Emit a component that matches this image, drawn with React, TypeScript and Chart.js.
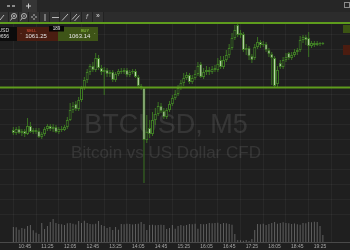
import { useEffect, useRef } from 'react';
import { Chart, registerables } from 'chart.js';

Chart.register(...registerables);

// ---- data ----
const firstCandleTime = '10:25';
const barMinutes = 5;

const opens = [
  1054.0, 1053.7, 1054.1, 1053.7, 1053.9, 1053.6, 1054.4, 1053.8, 1054.0, 1053.9,
  1053.3, 1053.6, 1054.1, 1054.4, 1054.1, 1054.3, 1053.8, 1054.1, 1054.0, 1054.3,
  1055.0, 1056.0, 1056.6, 1056.1, 1057.0, 1058.2, 1059.0, 1059.8, 1060.4, 1060.0,
  1061.2, 1060.2, 1059.8, 1060.0, 1059.6, 1059.8, 1059.0, 1059.6, 1059.9, 1059.8,
  1060.0, 1059.5, 1059.8, 1059.9, 1059.3, 1058.4, 1058.2, 1053.0, 1054.2, 1053.6,
  1055.0, 1055.6, 1056.4, 1055.9, 1055.3, 1056.0, 1056.6, 1057.2, 1057.6, 1058.2,
  1058.7, 1059.2, 1059.5, 1058.8, 1059.2, 1059.6, 1060.6, 1059.3, 1059.8, 1060.0,
  1059.8, 1060.2, 1060.0, 1061.0, 1060.3, 1061.0, 1061.5, 1062.2, 1063.2, 1064.5,
  1063.5, 1063.6, 1062.0, 1062.2, 1061.4, 1061.2, 1062.3, 1062.8, 1062.5, 1062.6,
  1062.0, 1061.6, 1061.2, 1058.6, 1060.7, 1060.3, 1061.0, 1061.7, 1061.2, 1061.5,
  1061.8, 1062.0, 1063.0, 1063.3, 1063.2, 1062.4, 1062.7, 1062.5, 1062.7, 1062.6,
];
const closes = [
  1053.7, 1054.1, 1053.7, 1053.9, 1053.6, 1054.4, 1053.8, 1054.0, 1053.8, 1053.3,
  1053.6, 1054.1, 1054.4, 1054.1, 1054.3, 1053.8, 1054.1, 1054.0, 1054.3, 1055.0,
  1056.0, 1056.4, 1056.1, 1057.0, 1058.2, 1059.0, 1059.8, 1060.4, 1060.0, 1061.2,
  1060.2, 1059.8, 1060.0, 1059.6, 1059.8, 1059.0, 1059.6, 1059.9, 1059.8, 1060.0,
  1059.5, 1059.8, 1059.9, 1059.3, 1058.4, 1058.2, 1053.0, 1053.8, 1053.6, 1055.0,
  1055.6, 1056.4, 1055.9, 1055.3, 1056.0, 1056.6, 1057.2, 1057.6, 1058.2, 1058.7,
  1059.2, 1059.5, 1058.8, 1059.2, 1059.6, 1060.4, 1059.3, 1059.8, 1060.0, 1059.8,
  1060.1, 1060.0, 1060.6, 1060.3, 1061.0, 1061.5, 1062.2, 1063.2, 1064.0, 1063.5,
  1063.7, 1062.0, 1062.2, 1061.4, 1061.0, 1062.3, 1062.8, 1062.5, 1062.6, 1062.0,
  1061.6, 1061.2, 1058.4, 1060.0, 1060.3, 1061.0, 1061.3, 1061.2, 1061.5, 1061.8,
  1062.0, 1063.0, 1063.3, 1063.0, 1062.4, 1062.7, 1062.5, 1062.7, 1062.6, 1062.7,
];
const highs = [
  1054.3, 1054.3, 1054.4, 1054.1, 1054.1, 1055.2, 1054.8, 1054.2, 1054.2, 1054.2,
  1053.8, 1054.3, 1054.6, 1054.6, 1054.6, 1054.5, 1054.3, 1054.4, 1054.5, 1055.3,
  1056.7, 1056.8, 1056.9, 1057.3, 1058.4, 1059.3, 1060.1, 1060.6, 1060.8, 1061.7,
  1061.5, 1060.5, 1060.3, 1060.2, 1060.0, 1060.0, 1059.8, 1060.1, 1060.2, 1060.2,
  1060.2, 1060.0, 1060.1, 1060.1, 1059.5, 1058.6, 1058.3, 1055.5, 1055.0, 1055.8,
  1056.2, 1056.8, 1056.7, 1056.2, 1056.2, 1056.9, 1057.5, 1058.0, 1058.5, 1059.0,
  1059.7, 1059.8, 1059.7, 1059.5, 1060.0, 1060.8, 1060.8, 1060.2, 1060.4, 1060.3,
  1060.4, 1060.5, 1061.2, 1061.4, 1061.4, 1062.0, 1062.6, 1063.7, 1064.5, 1064.7,
  1064.0, 1063.8, 1062.6, 1062.4, 1061.6, 1062.6, 1063.3, 1063.0, 1062.9, 1062.8,
  1062.2, 1061.8, 1061.4, 1060.4, 1061.0, 1061.3, 1061.7, 1061.8, 1061.8, 1062.1,
  1062.2, 1063.4, 1063.5, 1063.5, 1063.8, 1062.9, 1062.9, 1062.9, 1062.8, 1062.8,
];
const lows = [
  1053.5, 1053.5, 1053.6, 1053.4, 1053.3, 1053.5, 1053.7, 1053.6, 1053.6, 1053.2,
  1053.1, 1053.4, 1053.9, 1053.9, 1053.8, 1053.7, 1053.6, 1053.8, 1053.9, 1054.1,
  1054.9, 1055.7, 1055.9, 1055.9, 1056.8, 1058.0, 1058.7, 1059.5, 1059.8, 1059.8,
  1060.0, 1059.5, 1057.5, 1059.3, 1059.3, 1058.8, 1058.8, 1059.4, 1059.6, 1059.6,
  1059.3, 1059.3, 1059.6, 1059.2, 1058.2, 1058.0, 1048.7, 1052.7, 1053.2, 1053.4,
  1054.5, 1055.4, 1055.7, 1055.1, 1055.1, 1055.8, 1056.4, 1057.0, 1057.4, 1058.0,
  1058.4, 1059.0, 1058.6, 1058.6, 1059.0, 1059.4, 1059.2, 1059.1, 1059.5, 1059.5,
  1059.6, 1059.8, 1059.8, 1060.1, 1060.1, 1060.8, 1061.2, 1062.0, 1063.0, 1063.3,
  1063.2, 1061.8, 1061.5, 1061.0, 1060.7, 1061.0, 1062.1, 1062.2, 1062.3, 1061.8,
  1061.3, 1058.5, 1058.2, 1058.3, 1060.1, 1060.1, 1060.8, 1061.0, 1061.0, 1061.3,
  1061.5, 1061.8, 1062.7, 1062.5, 1061.3, 1062.2, 1062.3, 1062.4, 1062.4, 1062.5,
];
const volumes = [
  150, 148, 122, 140, 132, 160, 170, 118, 92, 80,
  190, 130, 160, 200, 230, 190, 180, 178, 170, 188,
  190, 182, 176, 210, 190, 212, 190, 180, 178, 182,
  210, 170, 160, 140, 150, 120, 150, 122, 180, 178,
  182, 180, 176, 180, 182, 200, 180, 120, 170, 172,
  168, 170, 172, 170, 130, 140, 170, 132, 160, 170,
  162, 170, 180, 178, 182, 132, 180, 178, 180, 190,
  188, 190, 192, 180, 190, 188, 180, 172, 80, 20,
  18, 12, 20, 10, 30, 120, 180, 178, 182, 170,
  180, 190, 200, 182, 190, 198, 190, 188, 180, 186,
  178, 172, 190, 188, 200, 198, 202, 200, 160, 70,
];
const timeLabels = [
  '10:45', '11:25', '12:05', '12:45', '13:25', '14:05', '14:45',
  '15:25', '16:05', '16:45', '17:25', '18:05', '18:45', '19:25',
];
const resistanceLevel = 1064.7;
const supportLevel = 1058.25;
const symbolTitle = 'BTCUSD, M5';
const symbolDescription = 'Bitcoin vs US Dollar CFD';
const sellPrice = '1061.25';
const buyPrice = '1063.14';
const spreadPoints = '189';

// ---- styles ----
const BG = '#1f1f1f';
const GRID = 'rgba(255,255,255,0.045)';
const WICK = '#3b7422';
const BODY_BORDER = '#3f7c25';
const BULL_FILL = '#1f1f1f';
const BEAR_FILL = '#c9e3b8';
const LEVEL = '#5e9c1d';
const VOL = 'rgba(160,160,160,0.5)';
const FONT = '"Liberation Sans", Arial, sans-serif';

const toMinutes = (t: string) => {
  const [h, m] = t.split(':').map(Number);
  return h * 60 + m;
};
const candleIndexOf = (t: string) => (toMinutes(t) - toMinutes(firstCandleTime)) / barMinutes;

function drawChrome(ctx: CanvasRenderingContext2D, w: number) {
  ctx.save();
  // top tab row
  ctx.fillStyle = '#262626';
  ctx.fillRect(0, 0, w, 12);
  ctx.fillStyle = '#353535';
  ctx.fillRect(22, 0, 15, 12);
  ctx.fillStyle = '#8a8a8a';
  ctx.fillRect(7, 5, 3, 2);
  ctx.fillRect(12, 5, 3, 2);
  ctx.fillStyle = '#cfcfcf';
  ctx.fillRect(26, 5.5, 5, 1);
  ctx.fillRect(28, 3.5, 1, 5);
  ctx.strokeStyle = '#8a8a8a';
  ctx.lineWidth = 1;
  ctx.strokeRect(344.5, 2.5, 5, 5);

  // toolbar row
  ctx.fillStyle = '#2c2c2c';
  ctx.fillRect(0, 12, w, 10);
  ctx.fillStyle = '#333333';
  ctx.fillRect(0, 12, 104, 10);
  ctx.strokeStyle = '#222';
  [8.5, 18.5, 28.5, 39.5, 49.5, 59.5, 70.5, 81.5, 92.5, 103.5].forEach((x) => {
    ctx.beginPath();
    ctx.moveTo(x, 12);
    ctx.lineTo(x, 22);
    ctx.stroke();
  });
  ctx.strokeStyle = '#b8b8b8';
  ctx.fillStyle = '#b8b8b8';
  ctx.lineWidth = 1;
  ctx.beginPath();
  ctx.moveTo(0, 20);
  ctx.lineTo(4, 15);
  ctx.stroke();
  [13, 23].forEach((cx, k) => {
    ctx.beginPath();
    ctx.arc(cx + 1, 16, 2.5, 0, Math.PI * 2);
    ctx.stroke();
    ctx.beginPath();
    ctx.moveTo(cx - 0.8, 18);
    ctx.lineTo(cx - 2.5, 20.5);
    ctx.stroke();
    ctx.fillRect(cx, 15.5, 2, 1);
    if (k === 0) ctx.fillRect(cx + 0.5, 15, 1, 2);
  });
  ctx.fillRect(31, 16.5, 2, 1);
  ctx.fillRect(35, 16.5, 2, 1);
  ctx.fillRect(33.5, 14, 1, 2);
  ctx.fillRect(33.5, 18, 1, 2);
  ctx.fillRect(44.5, 14, 1, 7);
  ctx.fillRect(52, 17, 7, 1);
  ctx.beginPath();
  ctx.moveTo(62, 20.5);
  ctx.lineTo(68, 14);
  ctx.stroke();
  ctx.beginPath();
  ctx.moveTo(72, 19.5);
  ctx.lineTo(77, 14);
  ctx.moveTo(74.5, 21);
  ctx.lineTo(79.5, 15.5);
  ctx.stroke();
  ctx.font = `italic 7px ${FONT}`;
  ctx.textAlign = 'center';
  ctx.textBaseline = 'middle';
  ctx.fillText('f', 87, 17.5);
  ctx.font = `bold 7px ${FONT}`;
  ctx.fillText('»', 98, 16.5);

  // trade panel
  ctx.fillStyle = '#0c0c0c';
  ctx.fillRect(0, 27, 17, 14);
  ctx.fillStyle = '#4a1d11';
  ctx.fillRect(17, 27, 41, 14);
  ctx.fillStyle = '#3e5417';
  ctx.fillRect(58, 27, 40, 14);
  ctx.fillStyle = '#dcdcdc';
  ctx.font = `5px ${FONT}`;
  ctx.textAlign = 'right';
  ctx.fillText('BTCUSD', 9, 30.5);
  ctx.fillText('9656', 9, 37);
  ctx.textAlign = 'center';
  ctx.fillStyle = '#9a7a70';
  ctx.fillText('-', 21, 33.5);
  ctx.fillStyle = '#a0b080';
  ctx.fillText('-', 94.5, 33.5);
  ctx.font = `4px ${FONT}`;
  ctx.fillStyle = '#e0553a';
  ctx.fillText('SELL', 31.5, 30.5);
  ctx.fillStyle = '#97d045';
  ctx.fillText('BUY', 85, 30.5);
  ctx.font = `6px ${FONT}`;
  ctx.fillStyle = '#e6e6e6';
  ctx.fillText(sellPrice, 36, 36.5);
  ctx.fillText(buyPrice, 79.5, 36.5);
  ctx.fillStyle = '#050505';
  ctx.fillRect(49, 26, 15, 5.5);
  ctx.fillStyle = '#e6e6e6';
  ctx.font = `4.5px ${FONT}`;
  ctx.fillText(spreadPoints, 56.5, 28.8);

  // price markers on the right edge
  ctx.fillStyle = '#3b5413';
  ctx.fillRect(343, 25, 7, 8);
  ctx.fillStyle = '#4b1c10';
  ctx.fillRect(343, 45, 7, 10);
  ctx.restore();
}

export default function App() {
  const canvasRef = useRef<HTMLCanvasElement | null>(null);

  useEffect(() => {
    const canvas = canvasRef.current;
    if (!canvas) return;

    const bgPlugin = {
      id: 'bgPlugin',
      beforeDraw(chart: any) {
        const c = chart.ctx;
        c.save();
        c.fillStyle = BG;
        c.fillRect(0, 0, chart.width, chart.height);
        c.restore();
      },
      beforeDatasetsDraw(chart: any) {
        const c = chart.ctx;
        c.save();
        c.fillStyle = 'rgba(255,255,255,0.1)';
        c.textAlign = 'center';
        c.textBaseline = 'alphabetic';
        c.font = `27px ${FONT}`;
        c.fillText(symbolTitle, 166, 133);
        c.font = `17px ${FONT}`;
        c.fillText(symbolDescription, 166, 158);
        c.restore();
      },
      afterDatasetsDraw(chart: any) {
        const c = chart.ctx;
        const ys = chart.scales.y;
        c.save();
        c.strokeStyle = LEVEL;
        c.lineWidth = 2;
        [resistanceLevel, supportLevel].forEach((lvl) => {
          const y = ys.getPixelForValue(lvl);
          c.beginPath();
          c.moveTo(0, y);
          c.lineTo(chart.width, y);
          c.stroke();
        });
        c.restore();
      },
      afterDraw(chart: any) {
        drawChrome(chart.ctx, chart.width);
      },
    };

    const chart = new Chart(canvas, {
      type: 'bar',
      data: {
        datasets: [
          {
            label: 'Volume',
            data: volumes.map((v, i) => ({ x: i, y: v })),
            yAxisID: 'yv',
            backgroundColor: VOL,
            barThickness: 1,
            inflateAmount: 0,
            grouped: false,
            order: 3,
          } as any,
          {
            label: 'Wicks',
            data: highs.map((h, i) => ({ x: i, y: [lows[i], h] })),
            yAxisID: 'y',
            backgroundColor: WICK,
            barThickness: 1,
            inflateAmount: 0,
            grouped: false,
            order: 2,
          } as any,
          {
            label: 'Bodies',
            data: opens.map((o, i) => ({ x: i, y: [o, closes[i]] })),
            yAxisID: 'y',
            backgroundColor: opens.map((o, i) => (closes[i] >= o ? BULL_FILL : BEAR_FILL)),
            borderColor: BODY_BORDER,
            borderWidth: 1,
            borderSkipped: false,
            barThickness: 3,
            inflateAmount: 0,
            grouped: false,
            order: 1,
          } as any,
        ],
      },
      options: {
        responsive: false,
        animation: false,
        events: [],
        layout: { padding: 0 },
        plugins: { legend: { display: false }, tooltip: { enabled: false } },
        scales: {
          x: {
            type: 'linear',
            min: -0.3,
            max: 114.15,
            afterBuildTicks: (axis: any) => {
              axis.ticks = timeLabels.map((t) => ({ value: candleIndexOf(t) }));
            },
            afterFit: (axis: any) => {
              axis.height = 8;
            },
            ticks: {
              autoSkip: false,
              maxRotation: 0,
              padding: 2,
              color: '#a8a8a8',
              font: { size: 5, family: FONT },
              callback: (_v: any, idx: number) => timeLabels[idx],
            },
            grid: { color: GRID, drawTicks: false },
            border: { color: '#4a4a4a' },
          },
          y: {
            type: 'linear',
            position: 'right',
            min: 1042.8,
            max: 1067,
            ticks: { display: false, stepSize: 1.5 },
            grid: { color: GRID, drawTicks: false },
            border: { display: false },
            afterFit: (axis: any) => {
              axis.width = 0;
            },
          },
          yv: {
            type: 'linear',
            display: false,
            min: 0,
            max: 2420,
          },
        },
      } as any,
      plugins: [bgPlugin],
    });

    return () => chart.destroy();
  }, []);

  return (
    <div style={{ position: 'fixed', left: 0, top: 0, width: 350, height: 250, background: BG }}>
      <canvas ref={canvasRef} width={350} height={250} style={{ display: 'block' }} />
    </div>
  );
}
